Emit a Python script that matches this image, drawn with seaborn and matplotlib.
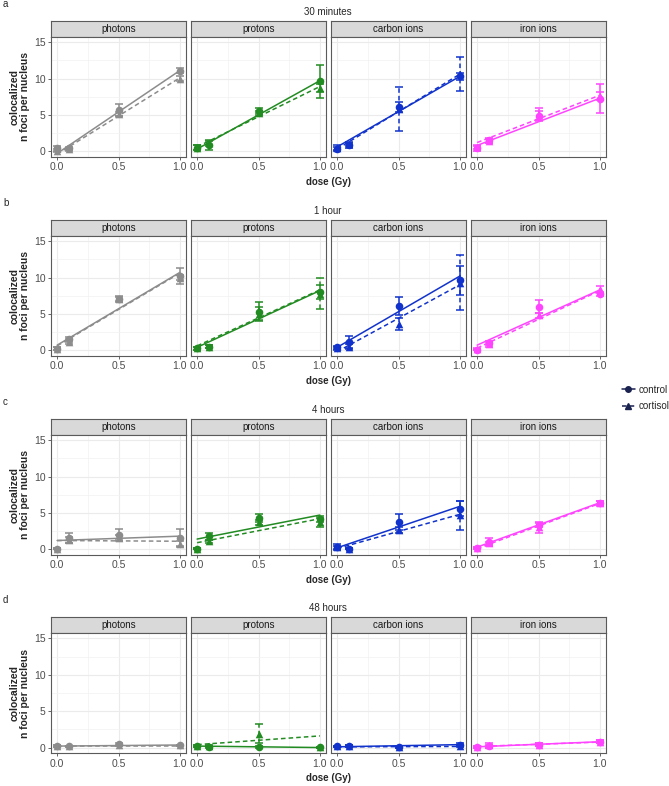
import numpy as np
import pandas as pd
import matplotlib
matplotlib.use("Agg")
import matplotlib.pyplot as plt
from matplotlib.lines import Line2D
import seaborn as sns

sns.set_theme(style="white")
plt.rcParams["font.family"] = ["Liberation Sans", "DejaVu Sans"]

# categories
doses = [0.0, 0.1, 0.5, 1.0]
radiations = ["photons", "protons", "carbon ions", "iron ions"]
timepoints = ["30 minutes", "1 hour", "4 hours", "48 hours"]
row_tags = ["a", "b", "c", "d"]
conditions = ["control", "cortisol"]
rad_colors = ["#8C8C8C", "#228B22", "#1133CC", "#FF44FF"]

# mean foci per nucleus, one list per radiation (dose 0, 0.1, 0.5, 1.0)
ctrl_mean_30min = [[0.4, 0.4, 5.7, 11.1], [0.5, 0.8, 5.6, 9.6], [0.3, 0.8, 6.1, 10.3], [0.4, 1.5, 4.9, 7.2]]
ctrl_err_30min = [[0.3, 0.2, 0.8, 0.3], [0.3, 0.6, 0.3, 2.3], [0.3, 0.4, 0.7, 0.5], [0.3, 0.3, 0.6, 2.0]]
cort_mean_30min = [[0.1, 0.3, 5.1, 10.0], [0.5, 1.1, 5.3, 8.7], [0.5, 1.0, 5.8, 10.6], [0.6, 1.4, 5.1, 7.6]]
cort_err_30min = [[0.2, 0.2, 0.3, 0.3], [0.3, 0.4, 0.3, 0.6], [0.3, 0.3, 3.0, 2.3], [0.3, 0.3, 0.9, 0.5]]

ctrl_mean_1h = [[0.2, 1.5, 7.1, 10.2], [0.3, 0.5, 5.3, 8.0], [0.4, 1.1, 6.1, 9.6], [0.1, 1.0, 6.0, 7.7]]
ctrl_err_1h = [[0.2, 0.3, 0.3, 1.1], [0.2, 0.2, 1.3, 1.0], [0.2, 0.8, 1.2, 2.0], [0.1, 0.3, 0.9, 0.3]]
cort_mean_1h = [[0.2, 1.2, 7.0, 10.0], [0.3, 0.5, 5.0, 7.8], [0.3, 0.5, 3.6, 9.3], [0.2, 0.8, 4.8, 8.4]]
cort_err_1h = [[0.2, 0.3, 0.3, 0.4], [0.2, 0.2, 0.9, 2.1], [0.2, 0.3, 0.8, 3.8], [0.1, 0.3, 0.3, 0.5]]

ctrl_mean_4h = [[0.1, 1.5, 2.0, 1.6], [0.1, 1.8, 4.3, 4.2], [0.3, 0.1, 3.8, 5.6], [0.2, 1.0, 3.3, 6.4]]
ctrl_err_4h = [[0.1, 0.7, 0.8, 1.2], [0.1, 0.5, 0.5, 0.4], [0.4, 0.1, 1.1, 1.0], [0.1, 0.6, 0.3, 0.3]]
cort_mean_4h = [[0.1, 1.3, 1.6, 0.7], [0.1, 1.1, 3.7, 3.7], [0.3, 0.1, 2.7, 4.7], [0.2, 0.8, 3.0, 6.3]]
cort_err_4h = [[0.1, 0.4, 0.3, 0.4], [0.1, 0.2, 0.3, 0.6], [0.2, 0.1, 0.4, 2.0], [0.1, 0.2, 0.7, 0.4]]

ctrl_mean_48h = [[0.2, 0.15, 0.45, 0.3], [0.2, 0.1, 0.1, 0.05], [0.15, 0.2, 0.1, 0.4], [0.1, 0.2, 0.4, 0.8]]
ctrl_err_48h = [[0.1, 0.1, 0.2, 0.1], [0.1, 0.1, 0.1, 0.05], [0.1, 0.1, 0.1, 0.2], [0.1, 0.2, 0.2, 0.2]]
cort_mean_48h = [[0.2, 0.15, 0.3, 0.3], [0.2, 0.2, 1.9, 0.05], [0.15, 0.2, 0.1, 0.2], [0.1, 0.3, 0.4, 0.8]]
cort_err_48h = [[0.1, 0.1, 0.1, 0.1], [0.1, 0.1, 1.3, 0.05], [0.1, 0.1, 0.1, 0.1], [0.1, 0.3, 0.2, 0.2]]

# linear fits (intercept, slope) per radiation
ctrl_fit_30min = [(-0.3, 11.4), (0.3, 9.4), (0.6, 9.7), (0.8, 6.5)]
cort_fit_30min = [(-0.4, 10.5), (0.6, 8.3), (0.3, 10.3), (1.2, 6.5)]
ctrl_fit_1h = [(0.7, 10.0), (0.4, 7.8), (0.4, 9.8), (0.7, 7.6)]
cort_fit_1h = [(0.6, 10.0), (0.6, 7.7), (-0.2, 9.2), (0.3, 7.9)]
ctrl_fit_4h = [(1.2, 0.6), (1.4, 3.3), (0.2, 5.7), (0.3, 6.1)]
cort_fit_4h = [(1.2, -0.1), (0.9, 3.3), (0.1, 4.7), (0.1, 6.2)]
ctrl_fit_48h = [(0.2, 0.15), (0.2, -0.2), (0.1, 0.3), (0.1, 0.7)]
cort_fit_48h = [(0.2, 0.0), (0.4, 1.2), (0.1, 0.05), (0.15, 0.6)]

series = {
    "30 minutes": (ctrl_mean_30min, ctrl_err_30min, cort_mean_30min, cort_err_30min, ctrl_fit_30min, cort_fit_30min),
    "1 hour": (ctrl_mean_1h, ctrl_err_1h, cort_mean_1h, cort_err_1h, ctrl_fit_1h, cort_fit_1h),
    "4 hours": (ctrl_mean_4h, ctrl_err_4h, cort_mean_4h, cort_err_4h, ctrl_fit_4h, cort_fit_4h),
    "48 hours": (ctrl_mean_48h, ctrl_err_48h, cort_mean_48h, cort_err_48h, ctrl_fit_48h, cort_fit_48h),
}

# long table of points and table of fits
recs, fits = [], []
for t in timepoints:
    cm, ce, tm, te, cf, tf = series[t]
    for r, rad in enumerate(radiations):
        for cond, m, e, f in [("control", cm, ce, cf), ("cortisol", tm, te, tf)]:
            for d, mv, ev in zip(doses, m[r], e[r]):
                recs.append(dict(time=t, radiation=rad, condition=cond, dose=d, mean=mv, err=ev))
            fits.append(dict(time=t, radiation=rad, condition=cond, b0=f[r][0], b1=f[r][1]))
df = pd.DataFrame(recs)
fit_df = pd.DataFrame(fits)

W, H = 669, 786
fig = plt.figure(figsize=(W / 100, H / 100), dpi=100)


def rect(x, y, w, h):
    return [x / W, 1 - (y + h) / H, w / W, h / H]


panel_x = [51, 191, 331, 471]
panel_w = 135
panel_top = [36.7, 235.7, 434.7, 633.0]
panel_h = 120
strip_h = 16
border = "#5A5A5A"
styles = {"control": ("-", "o"), "cortisol": ((0, (3, 2)), "^")}

for i, t in enumerate(timepoints):
    top = panel_top[i]
    fig.text(3 / W, 1 - (top - strip_h - 17) / H, row_tags[i], fontsize=7, va="center", ha="left")
    fig.text(328 / W, 1 - (top - strip_h - 9) / H, t, fontsize=7, va="center", ha="center")
    fig.text(20 / W, 1 - (top + panel_h / 2) / H, "colocalized\nn foci per nucleus", fontsize=7.5,
             fontweight="bold", rotation=90, va="center", ha="center", linespacing=1.0)
    fig.text(328 / W, 1 - (top + panel_h + 25) / H, "dose (Gy)", fontsize=7, fontweight="bold",
             va="center", ha="center")
    for j, rad in enumerate(radiations):
        col = rad_colors[j]
        sax = fig.add_axes(rect(panel_x[j], top - strip_h, panel_w, strip_h))
        sax.set_facecolor("#D9D9D9")
        sax.set_xticks([])
        sax.set_yticks([])
        for s in sax.spines.values():
            s.set_color(border)
            s.set_linewidth(0.8)
        sax.text(0.5, 0.5, rad, fontsize=7, ha="center", va="center", color="#1A1A1A", transform=sax.transAxes)

        ax = fig.add_axes(rect(panel_x[j], top, panel_w, panel_h))
        ax.set_facecolor("white")
        sub = df[(df.time == t) & (df.radiation == rad)]
        for cond in conditions:
            ls, mk = styles[cond]
            d = sub[sub.condition == cond]
            f = fit_df[(fit_df.time == t) & (fit_df.radiation == rad) & (fit_df.condition == cond)].iloc[0]
            xs = np.array([0.0, 1.0])
            sns.lineplot(x=xs, y=f.b0 + f.b1 * xs, ax=ax, color=col, linestyle=ls, linewidth=1.1, zorder=3)
            eb = ax.errorbar(d.dose, d["mean"], yerr=d.err, fmt="none", ecolor=col, elinewidth=1.1,
                             capsize=2.8, capthick=1.1, zorder=4)
            eb[2][0].set_linestyle(ls)
            sns.scatterplot(data=d, x="dose", y="mean", marker=mk, color=col, s=30, linewidth=0,
                            ax=ax, zorder=5, legend=False)
        ax.set_xlim(-0.05, 1.05)
        ax.set_ylim(-0.75, 15.75)
        ax.set_xticks([0, 0.5, 1.0])
        ax.set_xticklabels(["0.0", "0.5", "1.0"])
        ax.set_xticks([0.25, 0.75], minor=True)
        ax.set_yticks([0, 5, 10, 15])
        ax.set_yticks([2.5, 7.5, 12.5], minor=True)
        ax.grid(which="major", color="#EBEBEB", linewidth=0.8, zorder=0)
        ax.grid(which="minor", color="#F2F2F2", linewidth=0.5, zorder=0)
        ax.set_axisbelow(True)
        ax.set_xlabel("")
        ax.set_ylabel("")
        ax.tick_params(which="major", length=2.5, width=0.6, color="#4D4D4D", labelsize=7.5,
                       labelcolor="#4D4D4D", pad=1.5, bottom=True, left=(j == 0))
        ax.tick_params(which="minor", length=0)
        if j > 0:
            ax.set_yticklabels([])
        for s in ax.spines.values():
            s.set_color(border)
            s.set_linewidth(0.8)

key_color = "#1A2250"
handles = [
    Line2D([], [], color=key_color, linestyle="-", marker="o", markersize=4, linewidth=1.1),
    Line2D([], [], color=key_color, linestyle=(0, (3, 2)), marker="^", markersize=4, linewidth=1.1),
]
fig.legend(handles, conditions, loc="center left", bbox_to_anchor=(618 / W, 1 - 398 / H), frameon=False,
           fontsize=7, handlelength=1.3, handletextpad=0.4, labelspacing=0.7, borderaxespad=0)

fig.savefig("out.png", dpi=100)
